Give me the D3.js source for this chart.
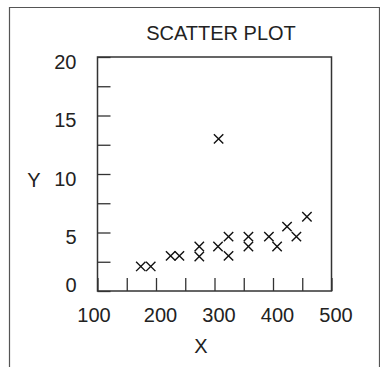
<!DOCTYPE html>
<html><head><meta charset="utf-8">
<script src="https://cdn.jsdelivr.net/npm/d3@7"></script>
<style>body{margin:0;background:#fff}svg{display:block}</style>
</head><body>
<script>
const xValues = [174, 191, 225, 240, 274, 274, 306, 307, 324, 324, 358, 358, 393, 407, 424, 440, 458];
const yValues = [2.1, 2.1, 3.0, 3.0, 3.8, 2.95, 3.8, 13.0, 4.65, 3.0, 4.65, 3.8, 4.65, 3.8, 5.5, 4.65, 6.35];
const xTickLabels = [100, 200, 300, 400, 500];
const yTickLabels = [0, 5, 10, 15, 20];
const title = "SCATTER PLOT";
const xLabel = "X", yLabel = "Y";

const W = 380, H = 367;
const svg = d3.select("body").append("svg").attr("width", W).attr("height", H);
const font = "'Liberation Sans', Arial, sans-serif";
const ink = "#222";

// outer frame (open at bottom)
svg.append("path").attr("d", `M9.5,${H+2}V7.5H379.5V${H+2}`)
  .attr("fill", "none").attr("stroke", "#555").attr("stroke-width", 1.2);

const L = 97.5, R = 331.5, T = 57, B = 291;
const x = d3.scaleLinear().domain([100, 500]).range([L, R]);
const y = d3.scaleLinear().domain([0, 20]).range([B, T]);

// plot box
svg.append("rect").attr("x", L).attr("y", T).attr("width", R - L).attr("height", B - T)
  .attr("fill", "none").attr("stroke", "#333").attr("stroke-width", 1.5);

// inner ticks
const xMinor = d3.range(100, 501, 50);
const yMinor = d3.range(0, 20.1, 2.5);
const gx = svg.append("g").attr("transform", `translate(0,${B})`)
  .call(d3.axisTop(x).tickValues(xMinor).tickSize(13).tickFormat(""));
gx.select(".domain").remove();
gx.selectAll("line").attr("stroke", "#333").attr("stroke-width", 1.3);
const gy = svg.append("g").attr("transform", `translate(${L},0)`)
  .call(d3.axisRight(y).tickValues(yMinor).tickSize(13).tickFormat(""));
gy.select(".domain").remove();
gy.selectAll("line").attr("stroke", "#333").attr("stroke-width", 1.3);

// tick labels
const gxl = svg.append("g").attr("transform", `translate(0,${B})`)
  .call(d3.axisBottom(x).tickValues(xTickLabels).tickSize(0).tickPadding(17).tickFormat(d3.format("d")));
gxl.select(".domain").remove();
gxl.selectAll("text").attr("font-family", font).attr("font-size", 20).attr("fill", ink)
  .attr("dx", d => d === 100 ? -4 : 4);

const gyl = svg.append("g").attr("transform", `translate(${L},0)`)
  .call(d3.axisLeft(y).tickValues(yTickLabels).tickSize(0).tickPadding(21).tickFormat(d3.format("d")));
gyl.select(".domain").remove();
gyl.selectAll("text").attr("font-family", font).attr("font-size", 20).attr("fill", ink)
  .attr("dy", d => d === 0 ? "0.0em" : "0.55em");

// titles
svg.append("text").attr("x", 221).attr("y", 40).attr("text-anchor", "middle")
  .attr("font-family", font).attr("font-size", 20).attr("fill", ink).text(title);
svg.append("text").attr("x", 201).attr("y", 353).attr("text-anchor", "middle")
  .attr("font-family", font).attr("font-size", 20).attr("fill", ink).text(xLabel);
svg.append("text").attr("x", 34).attr("y", 187).attr("text-anchor", "middle")
  .attr("font-family", font).attr("font-size", 20).attr("fill", ink).text(yLabel);

// markers
const pts = xValues.map((v, i) => [v, yValues[i]]);
const s = 4.7;
svg.append("g").selectAll("path").data(pts).join("path")
  .attr("d", d => {
    const cx = x(d[0]), cy = y(d[1]);
    return `M${cx - s},${cy - s}L${cx + s},${cy + s}M${cx - s},${cy + s}L${cx + s},${cy - s}`;
  })
  .attr("stroke", "#111").attr("stroke-width", 1.4).attr("fill", "none");
</script>
</body></html>
